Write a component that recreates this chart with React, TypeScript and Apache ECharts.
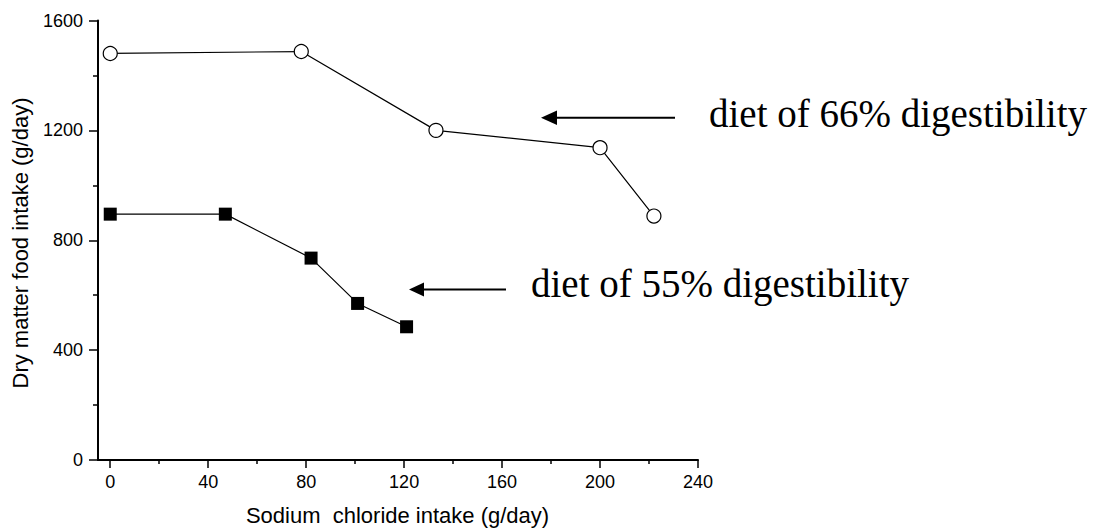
import React, { useEffect, useRef } from "react";
import * as echarts from "echarts";

const diet66X = [0, 78, 133, 200, 222];
const diet66Y = [1480, 1487, 1200, 1137, 888];
const diet55X = [0, 47, 82, 101, 121];
const diet55Y = [895, 895, 735, 570, 485];
const xTicks = [0, 40, 80, 120, 160, 200, 240];
const xMinorTicks = [20, 60, 100, 140, 180, 220];
const yTicks = [0, 400, 800, 1200, 1600];
const xTitle = "Sodium  chloride intake (g/day)";
const yTitle = "Dry matter food intake (g/day)";
const label66 = "diet of 66% digestibility";
const label55 = "diet of 55% digestibility";

const SANS = "'Liberation Sans', Arial, sans-serif";
const SERIF = "'Liberation Serif', 'Times New Roman', serif";

export default function App() {
  const ref = useRef<HTMLDivElement>(null);
  useEffect(() => {
    if (!ref.current) return;
    const chart = echarts.init(ref.current, null, { renderer: "svg" });
    const axisFont = { fontFamily: SANS, color: "#000" };
    const tickStyle = { color: "#000", width: 1.5 };
    chart.setOption({
      animation: false,
      backgroundColor: "#fff",
      grid: { left: 98, right: 404, top: 20.5, bottom: 71, containLabel: false },
      xAxis: [
        {
          type: "value",
          position: "bottom",
          min: -5,
          max: 240,
          axisLine: { show: true, onZero: false, lineStyle: { color: "#000", width: 2 } },
          axisTick: { show: true, inside: false, length: 8, lineStyle: tickStyle, customValues: xTicks },
          minorTick: { show: false },
          axisLabel: { ...axisFont, fontSize: 18, margin: 13, customValues: xTicks,
            formatter: (v: number) => String(v) },
          splitLine: { show: false },
        },
        {
          type: "value",
          position: "bottom",
          offset: 0,
          min: -5,
          max: 240,
          axisLine: { show: false },
          axisTick: { show: true, inside: false, length: 4, lineStyle: tickStyle, customValues: xMinorTicks },
          axisLabel: { show: false },
          splitLine: { show: false },
        },
      ],
      yAxis: {
        type: "value",
        min: 0,
        max: 1600,
        interval: 400,
        axisLine: { show: true, onZero: false, lineStyle: { color: "#000", width: 2 } },
        axisTick: { show: true, inside: false, length: 9, lineStyle: tickStyle },
        minorTick: { show: true, splitNumber: 2, length: 5, lineStyle: tickStyle },
        axisLabel: { ...axisFont, fontSize: 18, margin: 15, customValues: yTicks,
          formatter: (v: number) => String(v) },
        splitLine: { show: false },
      },
      series: [
        {
          type: "line",
          data: diet66X.map((x, i) => [x, diet66Y[i]]),
          symbol: "circle",
          symbolSize: 14,
          showAllSymbol: true,
          lineStyle: { color: "#000", width: 1.2 },
          itemStyle: { color: "#fff", borderColor: "#000", borderWidth: 1.2 },
          z: 3,
        },
        {
          type: "line",
          data: diet55X.map((x, i) => [x, diet55Y[i]]),
          symbol: "rect",
          symbolSize: 13,
          showAllSymbol: true,
          lineStyle: { color: "#000", width: 1.2 },
          itemStyle: { color: "#000", borderColor: "#000", borderWidth: 0 },
          z: 3,
        },
      ],
      graphic: [
        { type: "text", x: 397.5, y: 515.5, style: { text: xTitle, font: `22px ${SANS}`, fill: "#000", align: "center", verticalAlign: "middle" } },
        { type: "text", x: 20.5, y: 243, rotation: Math.PI / 2, style: { text: yTitle, font: `22px ${SANS}`, fill: "#000", align: "center", verticalAlign: "middle" } },
        { type: "line", shape: { x1: 555, y1: 117.7, x2: 675, y2: 117.7 }, style: { stroke: "#000", lineWidth: 2 } },
        { type: "polygon", shape: { points: [[541, 117.7], [557, 110.5], [557, 125]] }, style: { fill: "#000" } },
        { type: "text", x: 709, y: 113.5, style: { text: label66, font: `39px ${SERIF}`, fill: "#000", verticalAlign: "middle", align: "left" } },
        { type: "line", shape: { x1: 422, y1: 289.5, x2: 506, y2: 289.5 }, style: { stroke: "#000", lineWidth: 2 } },
        { type: "polygon", shape: { points: [[409, 289.5], [424, 282.5], [424, 296.5]] }, style: { fill: "#000" } },
        { type: "text", x: 531, y: 283.5, style: { text: label55, font: `39px ${SERIF}`, fill: "#000", verticalAlign: "middle", align: "left" } },
      ],
    });
    return () => chart.dispose();
  }, []);
  return <div ref={ref} style={{ width: 1102, height: 531, position: "absolute", left: 0, top: 0 }} />;
}
